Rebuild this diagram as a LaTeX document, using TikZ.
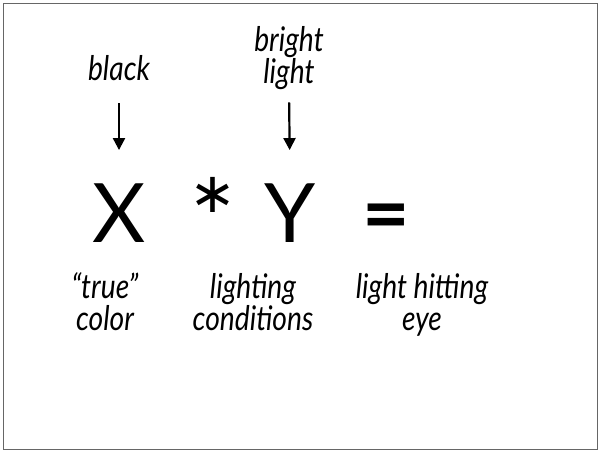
\documentclass[tikz,border=0pt]{standalone}
\usepackage{fontspec}
\setmainfont{Lato}
\newfontfamily\labfont{Lato}[FakeStretch=0.83]
\newfontfamily\symfont{DejaVu Sans}
\usetikzlibrary{arrows.meta}
\tikzset{
  lab/.style={font=\labfont\itshape\fontsize{34}{32}\selectfont, align=center, inner sep=0pt},
  big/.style={font=\fontsize{82}{82}\selectfont, inner sep=0pt},
  arr/.style={line width=2.2pt, -{Triangle[length=12pt,width=12pt]}}
}
\begin{document}
\begin{tikzpicture}[x=1pt,y=-1pt]
\useasboundingbox (0,0) rectangle (599,451);
\draw[black!60, line width=1pt] (3,3) rectangle (597,449.5);
\node[lab, anchor=base] (black) at (119,80) {black};
\node[lab, anchor=base] (bright) at (289,83) {bright\\light};
\node[big, anchor=base] (X) at (119,242) {X};
\node[big, anchor=base, font=\symfont\fontsize{56}{56}\selectfont] (ast) at (213,212) {∗};
\node[big, anchor=base] (Y) at (290,242) {Y};
\node[big, anchor=base, font=\bfseries\fontsize{82}{82}\selectfont] (eq) at (386,242) {=};
\node[lab, anchor=base] (true) at (105,330) {“true”\\color};
\node[lab, anchor=base] (light) at (253,330) {lighting\\conditions};
\node[lab, anchor=base] (eye) at (422,330) {light hitting\\eye};
\draw[arr, shorten <=23pt, shorten >=33pt] (black.south) -- (X.north);
\draw[arr, shorten <=13pt, shorten >=33pt] (bright.south) -- (Y.north);
\end{tikzpicture}
\end{document}
